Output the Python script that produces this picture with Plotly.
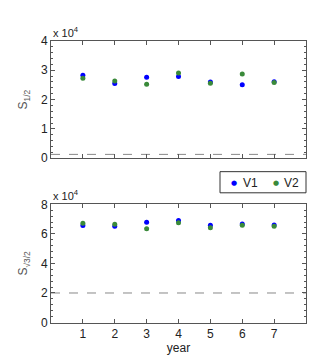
import plotly.graph_objects as go

years = [1, 2, 3, 4, 5, 6, 7]
top_v1 = [28300, 25500, 27600, 27900, 26000, 25100, 26100]
top_v2 = [27300, 26300, 25200, 29100, 25600, 28700, 25800]
bot_v1 = [65700, 65200, 67800, 69100, 65900, 66700, 66100]
bot_v2 = [67200, 66500, 63500, 67600, 64100, 65900, 65200]
top_ref = 1300
bot_ref = 20000
top_ticks = [0, 10000, 20000, 30000, 40000]
top_ticklabels = ["0", "1", "2", "3", "4"]
bot_ticks = [0, 20000, 40000, 60000, 80000]
bot_ticklabels = ["0", "2", "4", "6", "8"]
series_names = ["V1", "V2"]

BLUE = "#0000ff"
GREEN = "#3a8a3a"
AX = "#555555"
FF = "Liberation Sans, Arial, sans-serif"
FONT = dict(family=FF, size=12, color="#222")
W, H = 329, 360

fig = go.Figure()
fig.add_trace(go.Scatter(x=years, y=top_v1, mode="markers", name=series_names[0],
                         marker=dict(color=BLUE, size=5), xaxis="x", yaxis="y"))
fig.add_trace(go.Scatter(x=years, y=top_v2, mode="markers", name=series_names[1],
                         marker=dict(color=GREEN, size=5), xaxis="x", yaxis="y"))
fig.add_trace(go.Scatter(x=years, y=bot_v1, mode="markers", name=series_names[0],
                         marker=dict(color=BLUE, size=5), xaxis="x2", yaxis="y2"))
fig.add_trace(go.Scatter(x=years, y=bot_v2, mode="markers", name=series_names[1],
                         marker=dict(color=GREEN, size=5), xaxis="x2", yaxis="y2"))
fig.add_trace(go.Scatter(x=[0, 8], y=[top_ref, top_ref], mode="lines",
                         line=dict(color="#888", width=1, dash="dash"), xaxis="x", yaxis="y",
                         hoverinfo="skip"))
fig.add_trace(go.Scatter(x=[0, 8], y=[bot_ref, bot_ref], mode="lines",
                         line=dict(color="#888", width=1, dash="dash"), xaxis="x2", yaxis="y2",
                         hoverinfo="skip"))

xd = [43 / W, 298 / W]
common_x = dict(range=[0, 8], tickvals=years, ticks="inside", ticklen=4, mirror="ticks",
                showline=True, linecolor=AX, linewidth=1, tickcolor=AX, showgrid=False,
                zeroline=False, domain=xd, tickfont=FONT)
common_y = dict(ticks="inside", ticklen=4, mirror="ticks", showline=True, linecolor=AX,
                linewidth=1, tickcolor=AX, showgrid=False, zeroline=False, tickfont=FONT)

fig.update_layout(
    width=W, height=H,
    margin=dict(l=0, r=0, t=0, b=0),
    plot_bgcolor="white", paper_bgcolor="white",
    font=FONT,
    showlegend=False,
    xaxis=dict(common_x, anchor="y", showticklabels=False),
    yaxis=dict(common_y, anchor="x", range=[0, 40000], tickvals=top_ticks,
               ticktext=top_ticklabels, domain=[1 - 149 / H, 1 - 27 / H],
               minor=dict(ticks="inside", ticklen=2, tickcolor=AX, dtick=2000),
               title=dict(text="S<sub>1/2</sub>", font=dict(size=12, color="#555"),
                          standoff=10)),
    xaxis2=dict(common_x, anchor="y2", title=dict(text="year", font=FONT, standoff=2)),
    yaxis2=dict(common_y, anchor="x2", range=[0, 80000], tickvals=bot_ticks,
                ticktext=bot_ticklabels, domain=[1 - 320 / H, 1 - 197 / H],
                minor=dict(ticks="inside", ticklen=2, tickcolor=AX, dtick=4000),
                title=dict(text="S<sub>\u221a3/2</sub>", font=dict(size=12, color="#555"),
                           standoff=10)),
)

for yy in [1 - 27 / H, 1 - 197 / H]:
    fig.add_annotation(x=43 / W, y=yy, xref="paper", yref="paper", xanchor="left",
                       yanchor="bottom", text="x 10<sup>4</sup>", showarrow=False,
                       font=dict(family=FF, size=11, color="#222"))

# legend box (drawn manually to match the compact original)
fig.add_shape(type="rect", xref="paper", yref="paper",
              x0=212 / W, x1=298 / W, y0=1 - 185 / H, y1=1 - 163 / H,
              line=dict(color="#333", width=1), fillcolor="white")
ly = 1 - 175 / H
for sx, tx, col, name in [(226, 242, BLUE, series_names[0]), (268, 283, GREEN, series_names[1])]:
    fig.add_annotation(x=sx / W, y=ly, xref="paper", yref="paper", text="\u25cf",
                       showarrow=False, xanchor="center", yanchor="middle",
                       font=dict(family="DejaVu Sans", size=7, color=col))
    fig.add_annotation(x=tx / W, y=ly, xref="paper", yref="paper", text=name,
                       showarrow=False, xanchor="center", yanchor="middle",
                       font=dict(family=FF, size=12, color="#222"))

fig.write_html("out.html")
